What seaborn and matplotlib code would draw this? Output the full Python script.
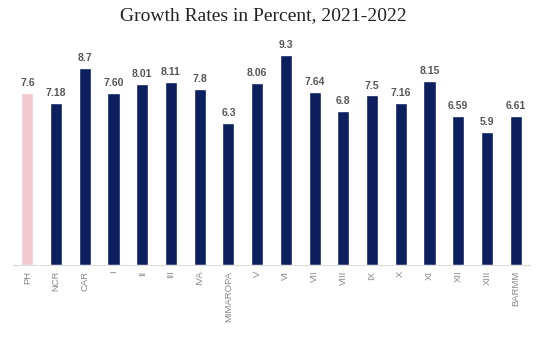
import matplotlib
matplotlib.use("Agg")
import matplotlib.pyplot as plt
import seaborn as sns
import pandas as pd

regions = ["PH", "NCR", "CAR", "I", "II", "III", "IVA", "MIMAROPA", "V", "VI",
           "VII", "VIII", "IX", "X", "XI", "XII", "XIII", "BARMM"]
growth = [7.6, 7.18, 8.7, 7.60, 8.01, 8.11, 7.8, 6.3, 8.06, 9.3,
          7.64, 6.8, 7.5, 7.16, 8.15, 6.59, 5.9, 6.61]
labels = ["7.6", "7.18", "8.7", "7.60", "8.01", "8.11", "7.8", "6.3", "8.06", "9.3",
          "7.64", "6.8", "7.5", "7.16", "8.15", "6.59", "5.9", "6.61"]

df = pd.DataFrame({"region": regions, "growth": growth})
palette = ["#f2c9cd"] + ["#0c1f5e"] * (len(regions) - 1)

sns.set_style("white")
fig = plt.figure(figsize=(5.4, 3.4), dpi=100)
ax = fig.add_axes([13/540, 75/340, 517/540, 225/340])
sns.barplot(data=df, x="region", y="growth", hue="region", palette=palette,
            legend=False, width=0.42, ax=ax, saturation=1)
ax.set_ylim(0, 225/22.6)
ax.set_xlim(-0.5, len(regions) - 0.5)
for i, (v, t) in enumerate(zip(growth, labels)):
    ax.text(i, v + 0.22, t, ha="center", va="bottom", fontsize=7.5, color="#555555",
            fontweight="semibold", family="Liberation Sans")
ax.set_yticks([])
ax.set_xlabel("")
ax.set_ylabel("")
for s in ["top", "right", "left"]:
    ax.spines[s].set_visible(False)
ax.spines["bottom"].set_color("#dddddd")
ax.spines["bottom"].set_linewidth(0.8)
ax.tick_params(axis="x", length=0, pad=4)
for lbl in ax.get_xticklabels():
    lbl.set_rotation(90)
    lbl.set_fontsize(6.8)
    lbl.set_color("#888888")
    lbl.set_family("Liberation Sans")
fig.text(0.487, 1 - 16/340, "Growth Rates in Percent, 2021-2022", ha="center", va="center",
         fontsize=14, family="Liberation Serif", color="#222222")
fig.savefig("out.png", dpi=100, facecolor="white")
